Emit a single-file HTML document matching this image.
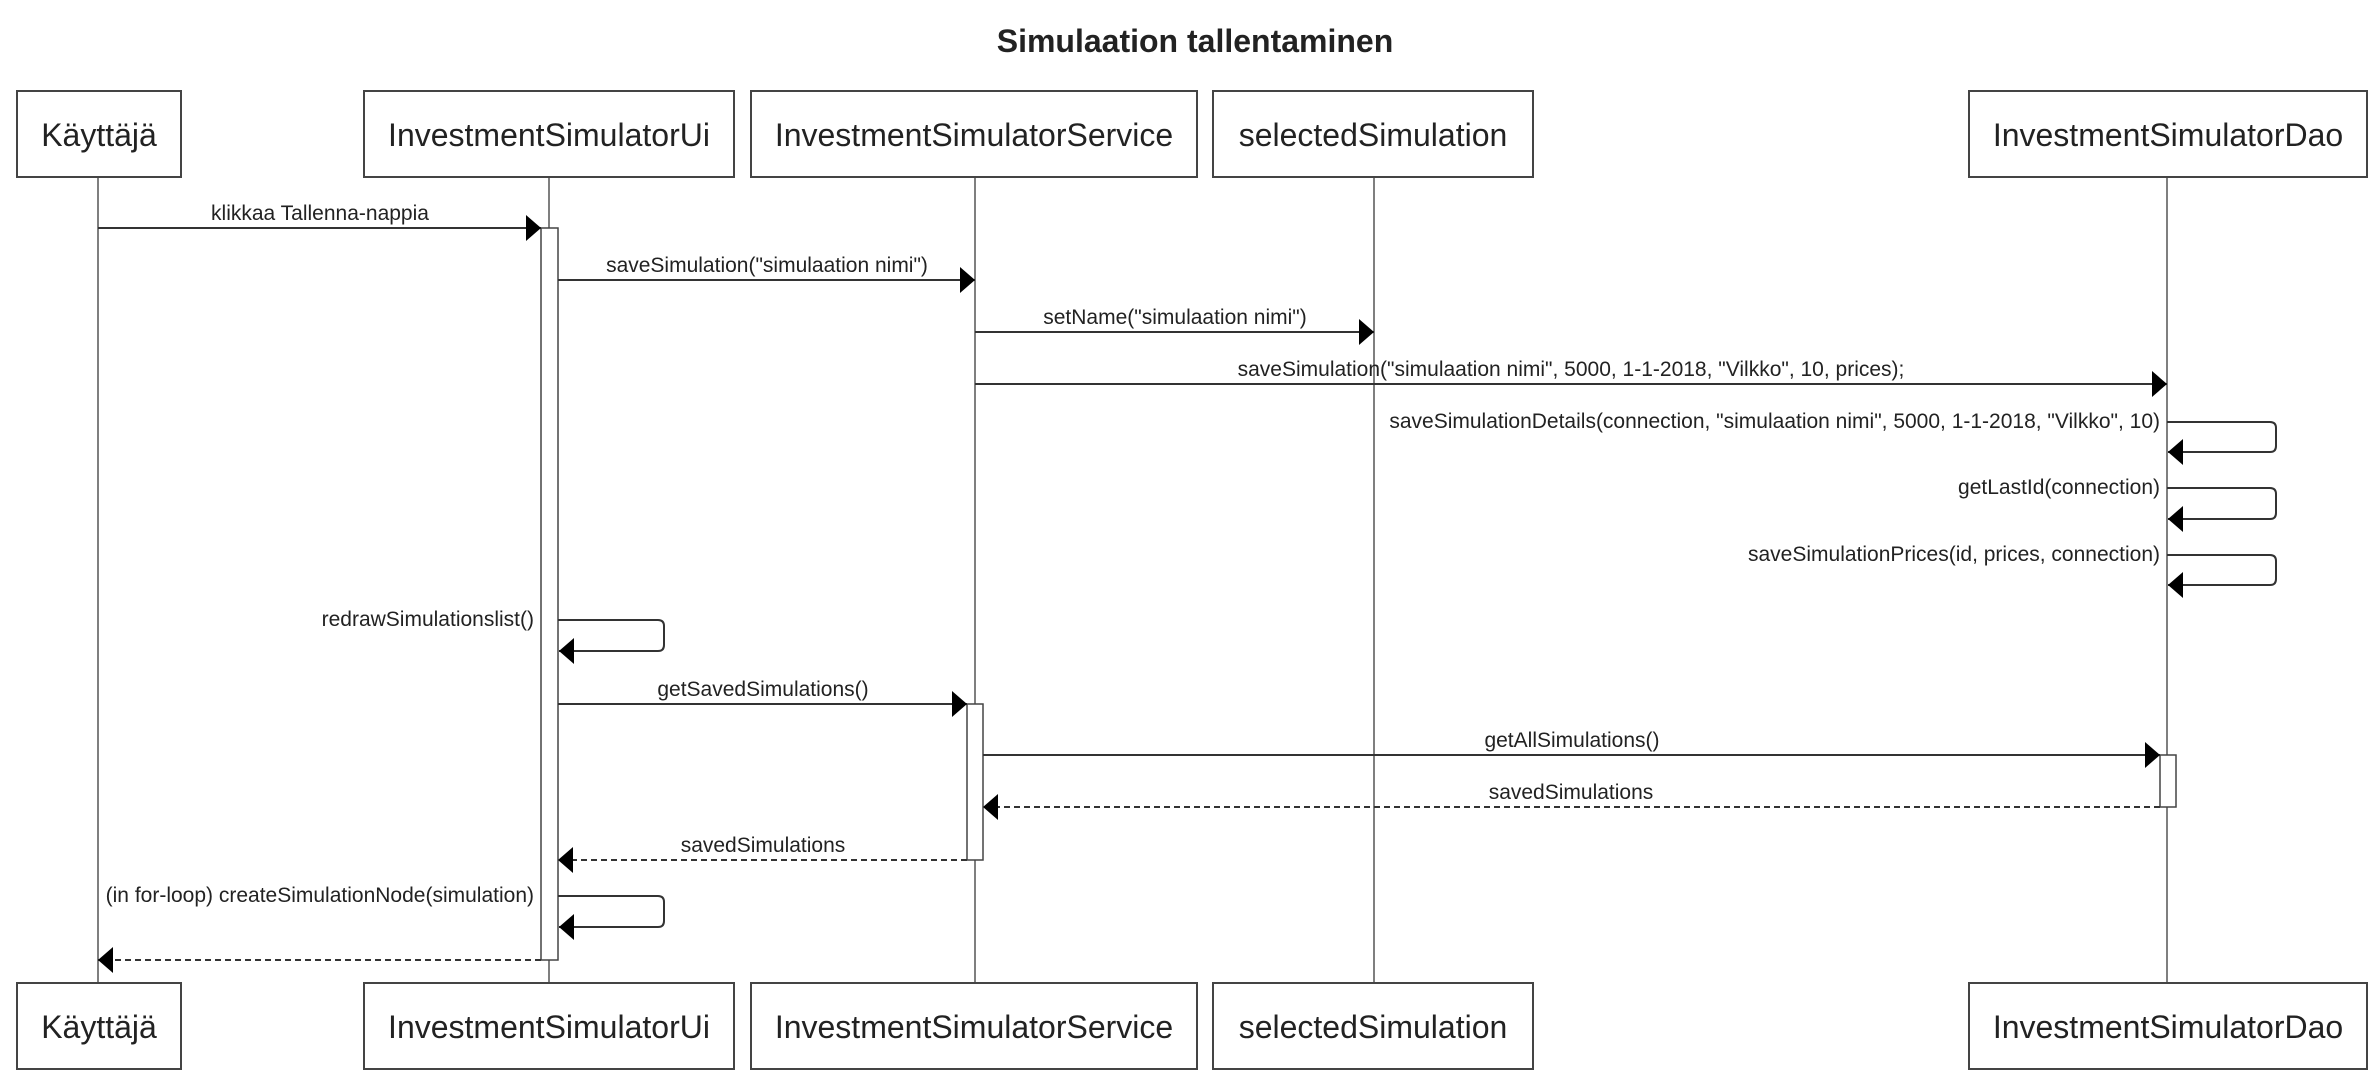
<!DOCTYPE html>
<html><head><meta charset="utf-8"><style>
html,body{margin:0;padding:0;background:#fff;}
svg{display:block;}
text{font-family:"Liberation Sans",Arial,sans-serif;fill:#222;}
</style></head><body>
<svg width="2378" height="1073" viewBox="0 0 2378 1073" xmlns="http://www.w3.org/2000/svg">
<defs>
<marker id="ah" markerWidth="16" markerHeight="26" refX="15" refY="13" orient="auto" markerUnits="userSpaceOnUse">
<path d="M0,0 L15,13 L0,26 Z" fill="#000"/>
</marker>
</defs>
<text x="1195" y="52" font-size="32" font-weight="bold" text-anchor="middle">Simulaation tallentaminen</text>

<g stroke="#555" stroke-width="1.5">
<line x1="98" y1="177" x2="98" y2="983"/>
<line x1="549" y1="177" x2="549" y2="983"/>
<line x1="975" y1="177" x2="975" y2="983"/>
<line x1="1374" y1="177" x2="1374" y2="983"/>
<line x1="2167" y1="177" x2="2167" y2="983"/>
</g>

<g fill="#fff" stroke="#444" stroke-width="2">
<rect x="17" y="91" width="164" height="86"/>
<rect x="364" y="91" width="370" height="86"/>
<rect x="751" y="91" width="446" height="86"/>
<rect x="1213" y="91" width="320" height="86"/>
<rect x="1969" y="91" width="398" height="86"/>
<rect x="17" y="983" width="164" height="86"/>
<rect x="364" y="983" width="370" height="86"/>
<rect x="751" y="983" width="446" height="86"/>
<rect x="1213" y="983" width="320" height="86"/>
<rect x="1969" y="983" width="398" height="86"/>
</g>
<g font-size="32" text-anchor="middle">
<text x="99" y="146">Käyttäjä</text>
<text x="549" y="146">InvestmentSimulatorUi</text>
<text x="974" y="146">InvestmentSimulatorService</text>
<text x="1373" y="146">selectedSimulation</text>
<text x="2168" y="146">InvestmentSimulatorDao</text>
<text x="99" y="1038">Käyttäjä</text>
<text x="549" y="1038">InvestmentSimulatorUi</text>
<text x="974" y="1038">InvestmentSimulatorService</text>
<text x="1373" y="1038">selectedSimulation</text>
<text x="2168" y="1038">InvestmentSimulatorDao</text>
</g>

<g fill="#fff" stroke="#444" stroke-width="1.5">
<rect x="541" y="228" width="17" height="732"/>
<rect x="967" y="704" width="16" height="156"/>
<rect x="2160" y="755" width="16" height="52"/>
</g>

<g stroke="#333" stroke-width="2" fill="none">
<line x1="98" y1="228" x2="541" y2="228" marker-end="url(#ah)"/>
<line x1="558" y1="280" x2="975" y2="280" marker-end="url(#ah)"/>
<line x1="975" y1="332" x2="1374" y2="332" marker-end="url(#ah)"/>
<line x1="975" y1="384" x2="2167" y2="384" marker-end="url(#ah)"/>
<path d="M2167,422 H2270 Q2276,422 2276,428 V446 Q2276,452 2270,452 H2168" marker-end="url(#ah)"/>
<path d="M2167,488 H2270 Q2276,488 2276,494 V513 Q2276,519 2270,519 H2168" marker-end="url(#ah)"/>
<path d="M2167,555 H2270 Q2276,555 2276,561 V579 Q2276,585 2270,585 H2168" marker-end="url(#ah)"/>
<path d="M558,620 H658 Q664,620 664,626 V645 Q664,651 658,651 H559" marker-end="url(#ah)"/>
<line x1="558" y1="704" x2="967" y2="704" marker-end="url(#ah)"/>
<line x1="983" y1="755" x2="2160" y2="755" marker-end="url(#ah)"/>
<line x1="2160" y1="807" x2="983" y2="807" stroke-dasharray="6,4" marker-end="url(#ah)"/>
<line x1="967" y1="860" x2="558" y2="860" stroke-dasharray="6,4" marker-end="url(#ah)"/>
<path d="M558,896 H658 Q664,896 664,902 V921 Q664,927 658,927 H559" marker-end="url(#ah)"/>
<line x1="541" y1="960" x2="98" y2="960" stroke-dasharray="6,4" marker-end="url(#ah)"/>
</g>

<g font-size="21" text-anchor="middle">
<text x="320" y="220">klikkaa Tallenna-nappia</text>
<text x="767" y="272">saveSimulation("simulaation nimi")</text>
<text x="1175" y="324">setName("simulaation nimi")</text>
<text x="1571" y="376">saveSimulation("simulaation nimi", 5000, 1-1-2018, "Vilkko", 10, prices);</text>
<text x="763" y="696">getSavedSimulations()</text>
<text x="1572" y="747">getAllSimulations()</text>
<text x="1571" y="799">savedSimulations</text>
<text x="763" y="852">savedSimulations</text>
</g>
<g font-size="21" text-anchor="end">
<text x="2160" y="428">saveSimulationDetails(connection, "simulaation nimi", 5000, 1-1-2018, "Vilkko", 10)</text>
<text x="2160" y="494">getLastId(connection)</text>
<text x="2160" y="561">saveSimulationPrices(id, prices, connection)</text>
<text x="534" y="626">redrawSimulationslist()</text>
<text x="534" y="902">(in for-loop) createSimulationNode(simulation)</text>
</g>
</svg>
</body></html>
